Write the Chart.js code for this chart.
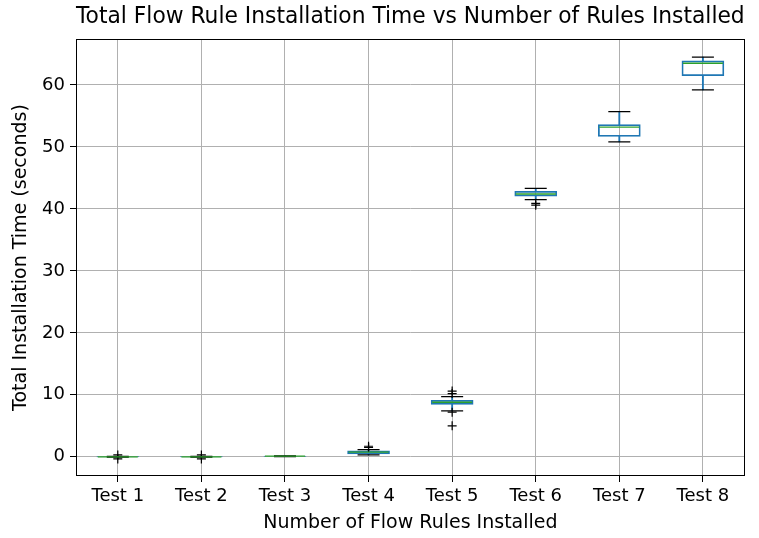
<!DOCTYPE html>
<html>
<head>
<meta charset="utf-8">
<script src="https://cdn.jsdelivr.net/npm/chart.js@4"></script>
<style>
  html, body { margin: 0; padding: 0; background: #fff; overflow: hidden; }
  #wrap { width: 759px; height: 538px; overflow: hidden; }
  canvas { display: block; }
</style>
</head>
<body>
<div id="wrap"><canvas id="boxChart" width="766" height="538"></canvas></div>
<script>
const categories = ['Test 1', 'Test 2', 'Test 3', 'Test 4', 'Test 5', 'Test 6', 'Test 7', 'Test 8'];
const whiskerLow  = [-0.05, -0.05, 0.05, 0.3, 7.4, 41.5, 50.8, 59.2];
const q1          = [-0.02, -0.02, 0.07, 0.45, 8.45, 42.05, 51.7, 61.5];
const medians     = [0.0, 0.0, 0.1, 0.75, 8.8, 42.4, 53.2, 63.5];
const q3          = [0.03, 0.03, 0.12, 0.95, 9.1, 42.85, 53.6, 63.9];
const whiskerHigh = [0.05, 0.05, 0.15, 1.15, 9.7, 43.3, 55.7, 64.5];
const outliers = [
    [0.3, -0.35],
    [0.3, -0.35],
    [],
    [1.5, 1.7],
    [10.2, 10.6, 7.2, 5.0],
    [40.6, 40.9],
    [],
    []
];
const yTicks = [0, 10, 20, 30, 40, 50, 60];

const blue = '#1f77b4';
const green = '#2ca02c';

const capPoints = [];
categories.forEach((c, i) => {
    capPoints.push({ x: c, y: whiskerLow[i] });
    capPoints.push({ x: c, y: whiskerHigh[i] });
});
const outlierPoints = [];
categories.forEach((c, i) => {
    outliers[i].forEach(v => outlierPoints.push({ x: c, y: v }));
});

// top and right spines like matplotlib
const frame = {
    id: 'frame',
    afterDatasetsDraw(chart) {
        const a = chart.chartArea;
        const g = chart.ctx;
        g.save();
        g.strokeStyle = '#000';
        g.lineWidth = 1;
        g.strokeRect(Math.round(a.left) + 0.5, Math.round(a.top) + 0.5,
            Math.round(a.right - a.left) - 1, Math.round(a.bottom - a.top) - 1);
        g.restore();
    }
};

Chart.defaults.font.family = 'DejaVu Sans';
Chart.defaults.color = '#000';

const ctx = document.getElementById('boxChart');
const boxChart = new Chart(ctx, {
    type: 'bar',
    data: {
        labels: categories,
        datasets: [
            {
                type: 'line',
                label: 'Median',
                data: medians,
                showLine: false,
                pointStyle: 'line',
                pointRadius: 20,
                pointBorderColor: green,
                pointBorderWidth: 1.3
            },
            {
                type: 'line',
                label: 'Caps',
                data: capPoints,
                showLine: false,
                pointStyle: 'line',
                pointRadius: 11,
                pointBorderColor: '#000',
                pointBorderWidth: 1.3
            },
            {
                type: 'line',
                label: 'Outliers',
                data: outlierPoints,
                showLine: false,
                pointStyle: 'cross',
                pointRadius: 4.5,
                pointBorderColor: '#000',
                pointBorderWidth: 1.2
            },
            {
                label: 'Box',
                data: categories.map((c, i) => [q1[i], q3[i]]),
                backgroundColor: 'rgba(0,0,0,0)',
                borderColor: blue,
                borderWidth: 1.1,
                borderSkipped: false,
                barThickness: 42,
                grouped: false
            },
            {
                label: 'Lower whisker',
                data: categories.map((c, i) => [whiskerLow[i], q1[i]]),
                backgroundColor: blue,
                borderWidth: 0,
                barThickness: 1.2,
                grouped: false
            },
            {
                label: 'Upper whisker',
                data: categories.map((c, i) => [q3[i], whiskerHigh[i]]),
                backgroundColor: blue,
                borderWidth: 0,
                barThickness: 1.2,
                grouped: false
            }
        ]
    },
    options: {
        responsive: false,
        animation: false,
        layout: {
            padding: { left: 0, right: 15, top: 0, bottom: 0 }
        },
        plugins: {
            legend: { display: false },
            tooltip: { enabled: false },
            title: {
                display: true,
                text: 'Total Flow Rule Installation Time vs Number of Rules Installed',
                fullSize: false,
                color: '#000',
                font: { size: 23.4, weight: 'normal' },
                padding: { top: 3, bottom: 8 }
            }
        },
        scales: {
            x: {
                offset: true,
                grid: {
                    offset: false,
                    color: '#b0b0b0',
                    lineWidth: 1,
                    tickLength: 6,
                    tickColor: '#000'
                },
                border: { display: false },
                ticks: { padding: 4, font: { size: 18 }, color: '#000' },
                title: {
                    display: true,
                    text: 'Number of Flow Rules Installed',
                    font: { size: 19 },
                    color: '#000',
                    padding: { top: 0, bottom: 4 }
                },
                afterFit(scale) {
                    scale.height = 62;
                }
            },
            y: {
                min: -3.1,
                max: 67.4,
                grid: {
                    color: '#b0b0b0',
                    lineWidth: 1,
                    tickLength: 6,
                    tickColor: '#000'
                },
                border: { display: false },
                afterBuildTicks(scale) {
                    scale.ticks = yTicks.map(v => ({ value: v }));
                },
                ticks: { padding: 5, font: { size: 18 }, color: '#000' },
                title: {
                    display: true,
                    text: 'Total Installation Time (seconds)',
                    font: { size: 19 },
                    color: '#000',
                    padding: { top: 10, bottom: 0 }
                },
                afterFit(scale) { scale.width = 76; }
            }
        }
    },
    plugins: [frame]
});
</script>
</body>
</html>
